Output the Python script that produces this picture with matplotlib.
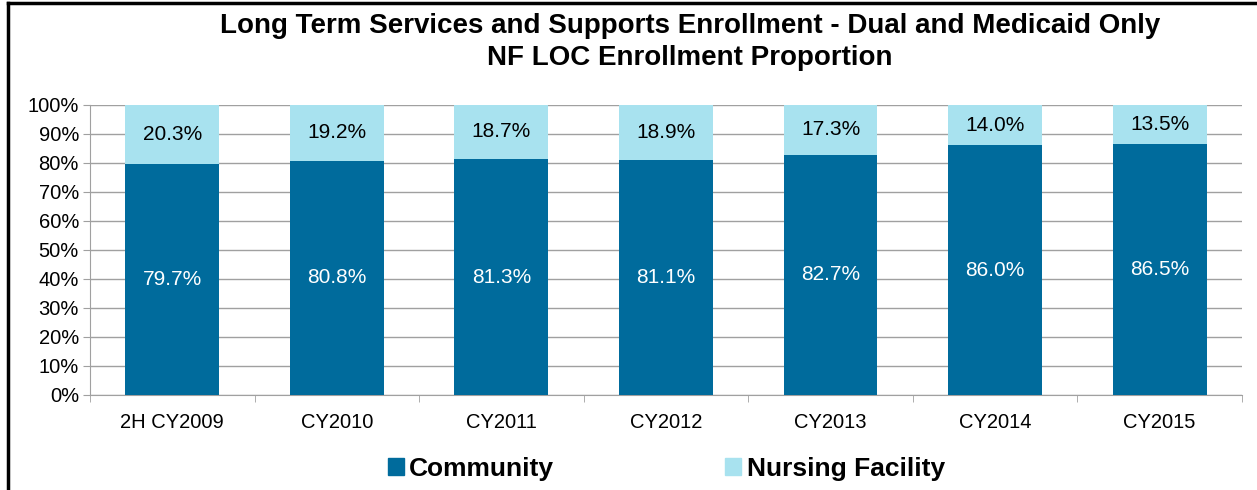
import matplotlib.pyplot as plt
import numpy as np
from matplotlib.patches import Patch

plt.rcParams['font.family'] = ['Liberation Sans', 'DejaVu Sans']

categories = ['2H CY2009', 'CY2010', 'CY2011', 'CY2012', 'CY2013', 'CY2014', 'CY2015']
community = [79.7, 80.8, 81.3, 81.1, 82.7, 86.0, 86.5]
nursing = [20.3, 19.2, 18.7, 18.9, 17.3, 14.0, 13.5]

dark = '#006B9C'
light = '#A8E2EF'

fig = plt.figure(figsize=(12.57, 4.90), dpi=100)
ax = fig.add_axes([0.0716, 0.194, 0.9164, 0.592])

x = np.arange(len(categories))
w = 0.57
ax.bar(x, community, w, color=dark, zorder=3)
ax.bar(x, nursing, w, bottom=community, color=light, zorder=3)

for i in range(len(x)):
    ax.text(x[i], community[i] / 2, f'{community[i]:.1f}%', ha='center', va='center',
            color='white', fontsize=15, zorder=4)
    ax.text(x[i], community[i] + nursing[i] / 2, f'{nursing[i]:.1f}%', ha='center',
            va='center', color='black', fontsize=15, zorder=4)

ax.set_xlim(-0.5, len(x) - 0.5)
ax.set_ylim(0, 100)
ax.set_yticks(np.arange(0, 101, 10))
ax.set_yticklabels([f'{v}%' for v in range(0, 101, 10)], fontsize=14.5)
ax.yaxis.grid(True, color='#A0A0A0', linewidth=1, zorder=0)
ax.set_xticks(x)
ax.set_xticklabels(categories, fontsize=14.5)
ax.set_xticks(np.arange(-0.5, len(x)), minor=True)
ax.tick_params(axis='x', which='major', length=0, pad=13)
ax.tick_params(axis='x', which='minor', length=5, color='#A0A0A0')
ax.tick_params(axis='y', length=5, color='#A0A0A0', pad=3)
for s in ['top', 'right']:
    ax.spines[s].set_visible(False)
for s in ['left', 'bottom']:
    ax.spines[s].set_color('#A0A0A0')

fig.text(0.549, 0.915, 'Long Term Services and Supports Enrollment - Dual and Medicaid Only\nNF LOC Enrollment Proportion',
         ha='center', va='center', fontsize=20, fontweight='bold', linespacing=1.3)

handles = [Patch(color=dark, label='Community'), Patch(color=light, label='Nursing Facility')]
fig.legend(handles=handles, loc='center', bbox_to_anchor=(0.530, 0.043), ncol=2, frameon=False,
           prop={'size': 19, 'weight': 'bold'}, handlelength=0.6, handleheight=0.6,
           handletextpad=0.2, columnspacing=6.5)

# chart border (left and top visible)
fig.add_artist(plt.Line2D([0.0066, 0.0066], [0, 0.994], color='black', linewidth=2.5))
fig.add_artist(plt.Line2D([0.0066, 1], [0.994, 0.994], color='black', linewidth=2.5))

fig.savefig('out.png', dpi=100)
